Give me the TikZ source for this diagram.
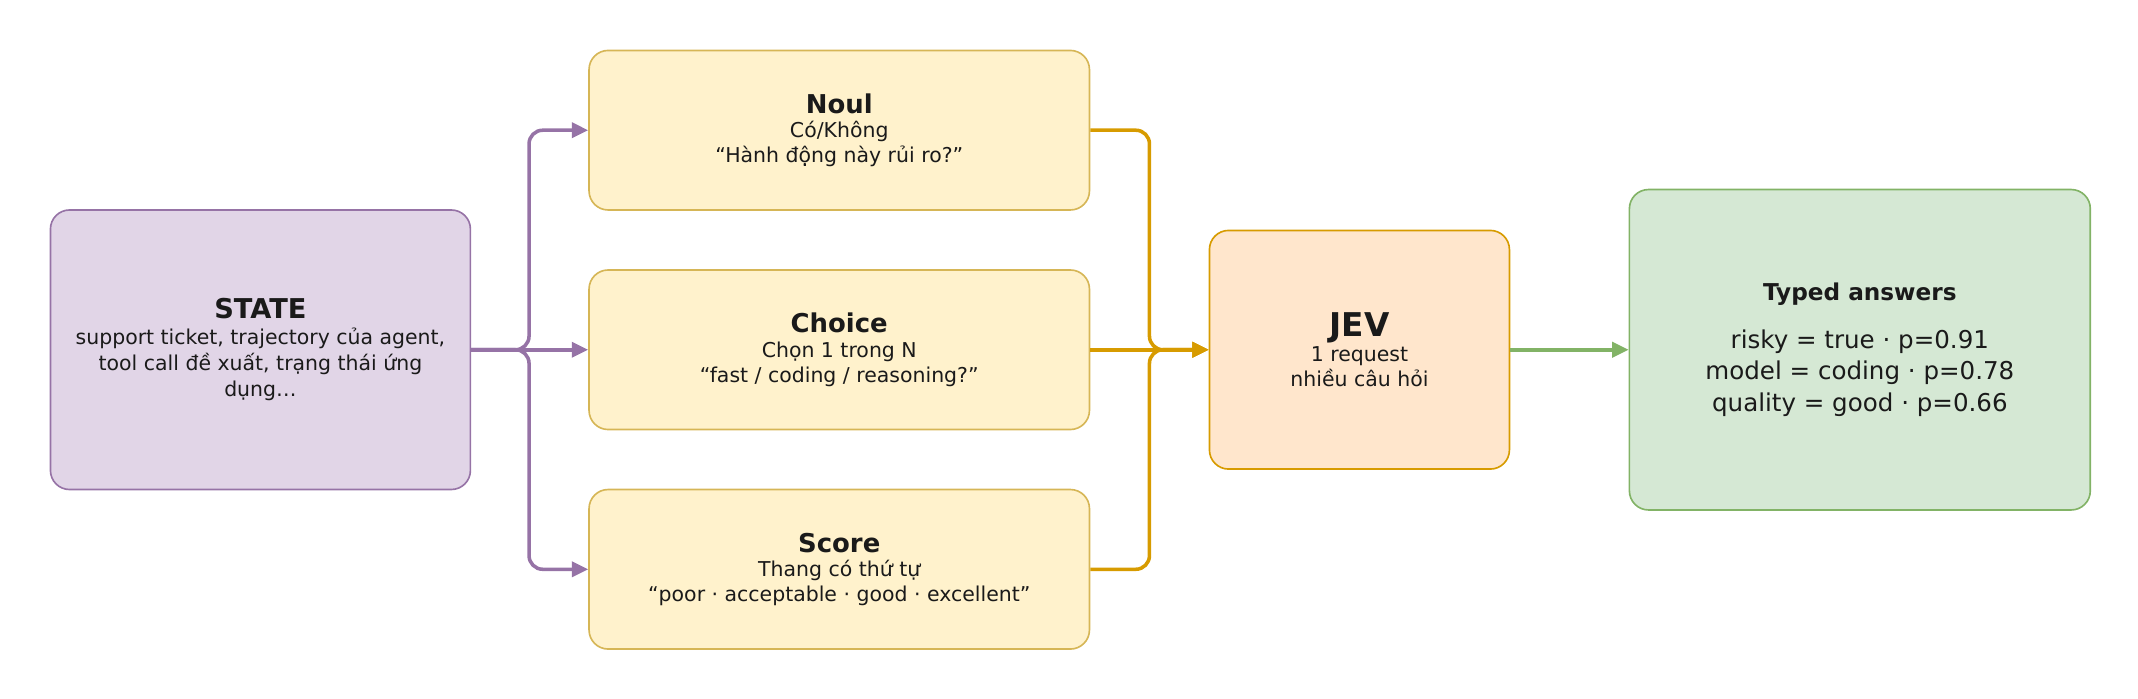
\documentclass[tikz,border=0pt]{standalone}
\usepackage{fontspec}
\setmainfont{DejaVu Sans}
\usetikzlibrary{arrows.meta}
\definecolor{pf}{HTML}{E1D5E7}\definecolor{ps}{HTML}{9673A6}
\definecolor{yf}{HTML}{FFF2CC}\definecolor{ys}{HTML}{D6B656}
\definecolor{of}{HTML}{FFE6CC}\definecolor{os}{HTML}{D79B00}
\definecolor{gf}{HTML}{D5E8D4}\definecolor{gs}{HTML}{82B366}
\definecolor{tx}{HTML}{1A1A1A}
\begin{document}
\begin{tikzpicture}[x=1pt,y=-1pt,
 box/.style={draw,line width=1.2pt,rounded corners=14pt,text=tx,align=center},
 yb/.style={box,fill=yf,draw=ys,minimum width=367pt,minimum height=117pt,font=\fontsize{15}{18}\selectfont},
 conn/.style={line width=2.6pt,rounded corners=10pt,-{Triangle[length=12pt,width=11pt]}},
 ttl/.style={font=\bfseries\fontsize{19}{23}\selectfont}]
\useasboundingbox (0,0) rectangle (1568,512);
\node[box,fill=pf,draw=ps,minimum width=308pt,minimum height=205pt,font=\fontsize{15}{19}\selectfont] (st) at (191,256.5)
 {{\bfseries\fontsize{20}{24}\selectfont STATE}\\support ticket, trajectory của agent,\\tool call đề xuất, trạng thái ứng\\dụng…};
\node[yb] (n) at (615.5,95.5) {{\bfseries\fontsize{19}{23}\selectfont Noul}\\Có/Không\\“Hành động này rủi ro?”};
\node[yb] (c) at (615.5,256.5) {{\bfseries\fontsize{19}{23}\selectfont Choice}\\Chọn 1 trong N\\“fast / coding / reasoning?”};
\node[yb] (s) at (615.5,417.5) {{\bfseries\fontsize{19}{23}\selectfont Score}\\Thang có thứ tự\\“poor · acceptable · good · excellent”};
\node[box,fill=of,draw=os,minimum width=220pt,minimum height=175pt,font=\fontsize{15}{18}\selectfont] (j) at (997,256.5)
 {{\bfseries\fontsize{24}{28}\selectfont JEV}\\1 request\\nhiều câu hỏi};
\node[box,fill=gf,draw=gs,minimum width=338pt,minimum height=235pt,font=\fontsize{18}{23}\selectfont] (t) at (1364,256.5)
 {{\bfseries\fontsize{17}{21}\selectfont Typed answers}\\[12pt]risky = true · p=0.91\\model = coding · p=0.78\\quality = good · p=0.66};
\coordinate (sp) at (388,256.5);
\coordinate (jp) at (843,256.5);
\draw[conn,ps] (st.east) -- (sp) |- (n.west);
\draw[conn,ps] (st.east) -- (c.west);
\draw[conn,ps] (st.east) -- (sp) |- (s.west);
\draw[conn,os] (n.east) -| (jp) -- (j.west);
\draw[conn,os] (c.east) -- (j.west);
\draw[conn,os] (s.east) -| (jp) -- (j.west);
\draw[conn,gs] (j.east) -- (t.west);
\end{tikzpicture}
\end{document}
